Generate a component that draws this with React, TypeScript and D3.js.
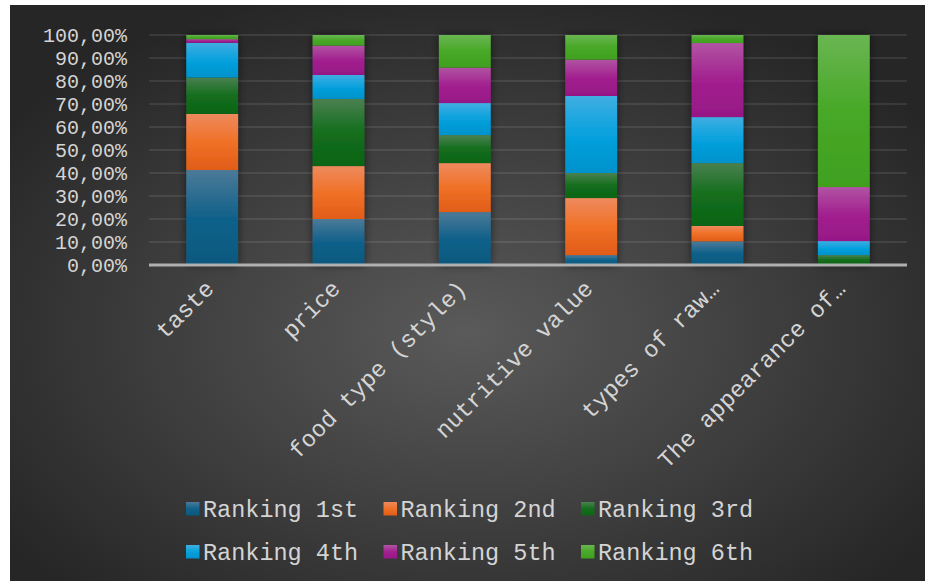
import React from "react";
import * as d3 from "d3";

const categories = ["taste", "price", "food type (style)", "nutritive value", "types of raw…", "The appearance of…"];
const seriesNames = ["Ranking 1st", "Ranking 2nd", "Ranking 3rd", "Ranking 4th", "Ranking 5th", "Ranking 6th"];
const rank1 = [41.3, 20.0, 23.0, 4.3, 10.3, 0];
const rank2 = [24.4, 23.0, 21.3, 24.8, 6.7, 0];
const rank3 = [15.8, 29.2, 12.2, 10.9, 27.3, 4.3];
const rank4 = [15.1, 10.4, 13.9, 33.5, 20.0, 6.1];
const rank5 = [1.6, 12.8, 15.4, 15.8, 32.2, 23.5];
const rank6 = [1.8, 4.6, 14.2, 10.7, 3.5, 66.1];
const yTicks = [0, 10, 20, 30, 40, 50, 60, 70, 80, 90, 100];

const seriesValues = [rank1, rank2, rank3, rank4, rank5, rank6];
const colors = [
  { top: "#4c7a98", mid: "#11618a", bot: "#0a587e" },
  { top: "#ee8a5e", mid: "#f07127", bot: "#e15c18" },
  { top: "#4a8050", mid: "#136e1c", bot: "#0e6417" },
  { top: "#40aee2", mid: "#07a1dd", bot: "#0092cb" },
  { top: "#b154a3", mid: "#a2208f", bot: "#961886" },
  { top: "#69b652", mid: "#48a827", bot: "#40a01f" },
];

const W = 925;
const H = 581;
const FONT = "'Liberation Mono', 'Courier New', monospace";
const TEXT = "#d4d4d4";

export default function App() {
  const x = d3.scaleBand<string>().domain(categories).range([149, 907]).paddingInner(0.59).paddingOuter(0.295);
  const y = d3.scaleLinear().domain([0, 100]).range([265, 35]);

  const rows = categories.map((c, i) => {
    const o: any = { cat: c };
    seriesValues.forEach((s, k) => (o["s" + k] = s[i]));
    return o;
  });
  const stack = d3.stack<any>().keys(seriesValues.map((_, k) => "s" + k))(rows);

  const fmt = (v: number) => v.toFixed(2).replace(".", ",") + "%";

  return (
    <svg width={W} height={H} style={{ position: "absolute", left: 0, top: 0 }}>
      <defs>
        <radialGradient id="bg" cx="50%" cy="57%" r="62%">
          <stop offset="0%" stopColor="#5a5a5a" />
          <stop offset="100%" stopColor="#262626" />
        </radialGradient>
        {colors.map((c, k) => (
          <linearGradient key={k} id={"g" + k} x1="0" y1="0" x2="0" y2="1">
            <stop offset="0%" stopColor={c.top} />
            <stop offset="50%" stopColor={c.mid} />
            <stop offset="100%" stopColor={c.bot} />
          </linearGradient>
        ))}
        <filter id="shadow" x="-30%" y="-10%" width="160%" height="120%">
          <feDropShadow dx="0" dy="0" stdDeviation="4" floodColor="#000" floodOpacity="0.55" />
        </filter>
      </defs>
      <rect x={0} y={0} width={W} height={H} fill="#ffffff" />
      <rect x={10} y={5} width={W - 10} height={H - 5} fill="url(#bg)" />

      {yTicks.map((t) => (
        <g key={t}>
          {t > 0 && (
            <line x1={149} x2={907} y1={y(t)} y2={y(t)} stroke="#ffffff" strokeOpacity={0.09} strokeWidth={2} />
          )}
          <text x={127} y={y(t)} dy="0.35em" textAnchor="end" fill={TEXT} fontFamily={FONT} fontSize={20}>
            {fmt(t)}
          </text>
        </g>
      ))}

      {categories.map((c, i) => (
        <g key={c} filter="url(#shadow)">
          {stack.map((s, k) => {
            const d = s[i];
            const h = y(d[0]) - y(d[1]);
            if (h <= 0) return null;
            return <rect key={k} x={x(c)} y={y(d[1])} width={x.bandwidth()} height={h} fill={`url(#g${k})`} />;
          })}
        </g>
      ))}

      <line x1={149} x2={907} y1={y(0)} y2={y(0)} stroke="#b0b0b0" strokeWidth={3} />

      {categories.map((c) => {
        const cx = (x(c) as number) + x.bandwidth() / 2 + 3;
        const cy = 290;
        return (
          <text
            key={c}
            x={cx}
            y={cy}
            transform={`rotate(-45 ${cx} ${cy})`}
            textAnchor="end"
            fill={TEXT}
            fontFamily={FONT}
            fontSize={23.5}
          >
            {c}
          </text>
        );
      })}

      {seriesNames.map((n, k) => {
        const col = k % 3;
        const row = Math.floor(k / 3);
        const lx = 186 + col * 197.5;
        const ly = 509 + row * 43;
        return (
          <g key={n}>
            <rect x={lx} y={ly - 7} width={13.5} height={13.5} fill={`url(#g${k})`} />
            <text x={lx + 17} y={ly} dy="0.35em" fill={TEXT} fontFamily={FONT} fontSize={23.5}>
              {n}
            </text>
          </g>
        );
      })}
    </svg>
  );
}
